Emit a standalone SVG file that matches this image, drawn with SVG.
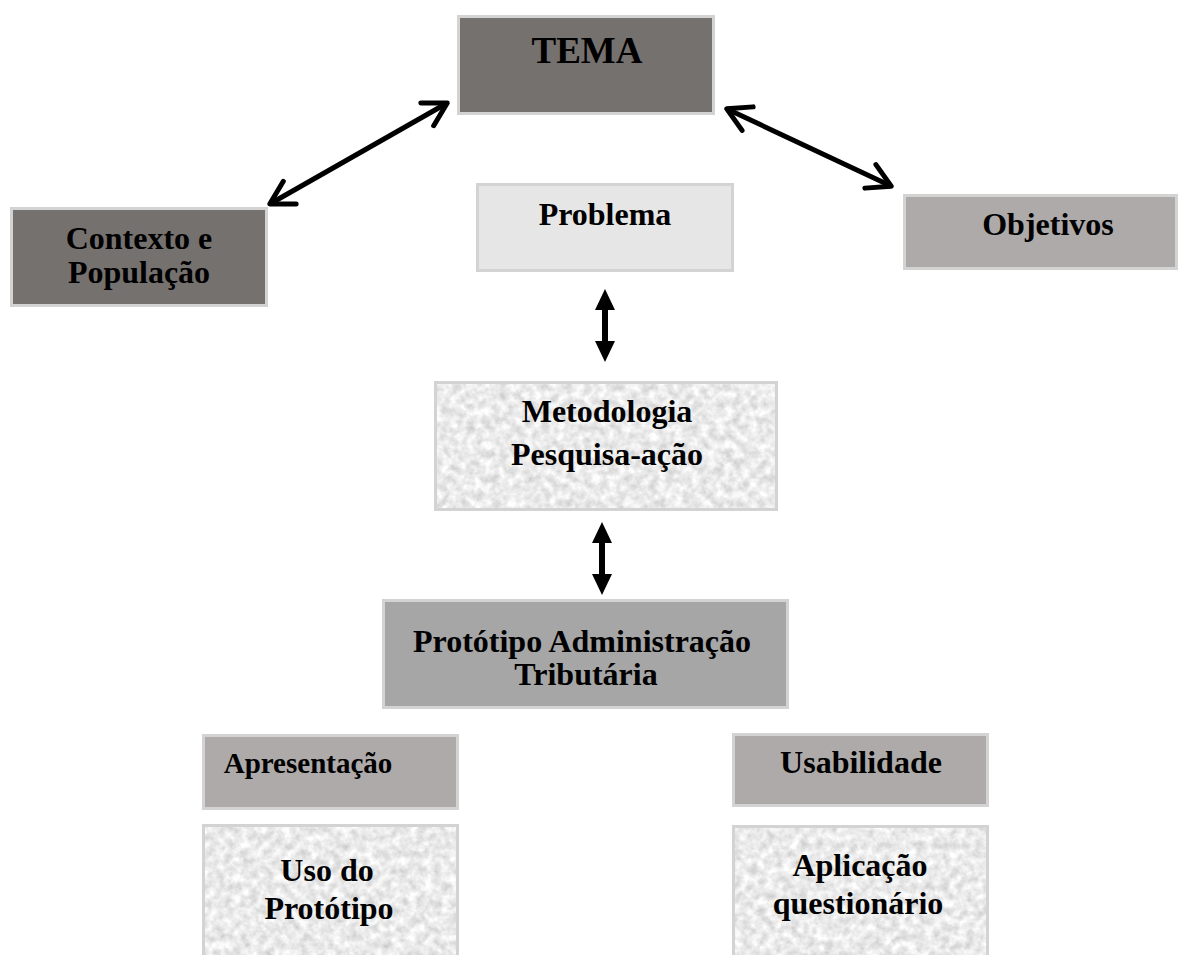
<svg xmlns="http://www.w3.org/2000/svg" width="1182" height="955" viewBox="0 0 1182 955">
  <defs>
    <style>
      .box { stroke: #d3d3d3; stroke-width: 3; }
      .dark { fill: #75716f; }
      .light { fill: #e6e6e6; }
      .mid { fill: #adaaa9; }
      .grey { fill: #a6a6a6; }
      .tex { fill: #ffffff; stroke: none; filter: url(#granite); }
      .frame { fill: none; stroke: #d3d3d3; stroke-width: 3; }
      text { font-family: "Liberation Serif", "Times New Roman", serif; font-weight: bold; font-size: 32px; fill: #000; text-anchor: middle; }
      .link { fill: none; stroke: #000; }
      .diag { stroke-width: 5; stroke-linecap: round; marker-start: url(#chevron); marker-end: url(#chevron); }
      .vert { stroke-width: 6; marker-start: url(#tri); marker-end: url(#tri); }
    </style>
    <!-- speckled stone fill for the light boxes -->
    <filter id="granite" x="0" y="0" width="1" height="1" color-interpolation-filters="sRGB">
      <feTurbulence type="fractalNoise" baseFrequency="0.12" numOctaves="4" seed="7" result="noise"/>
      <feColorMatrix in="noise" type="matrix" values="0.3 0 0 0 0.77  0.3 0 0 0 0.77  0.3 0 0 0 0.77  0 0 0 0 1" result="gray"/>
      <feComposite in="gray" in2="SourceAlpha" operator="in"/>
    </filter>
    <!-- open arrowhead for the diagonal links -->
    <marker id="chevron" markerUnits="userSpaceOnUse" viewBox="-40 -30 60 60" markerWidth="60" markerHeight="60" refX="0" refY="0" orient="auto-start-reverse">
      <path d="M-21,-13 L2,0 L-21,13" fill="none" stroke="#000" stroke-width="5" stroke-linecap="round" stroke-linejoin="round"/>
    </marker>
    <!-- solid arrowhead for the vertical links -->
    <marker id="tri" markerUnits="userSpaceOnUse" viewBox="-20 -15 40 30" markerWidth="40" markerHeight="30" refX="0" refY="0" orient="auto-start-reverse">
      <path d="M-6,-10 L15,0 L-6,10 Z" fill="#000"/>
    </marker>
  </defs>

  <rect width="1182" height="955" fill="#ffffff"/>

  <g id="connectors">
    <line class="link diag" x1="271.5" y1="203" x2="445.5" y2="104"/>
    <line class="link diag" x1="728.6" y1="109.7" x2="889.4" y2="185.3"/>
    <line class="link vert" x1="605" y1="304" x2="605" y2="347"/>
    <line class="link vert" x1="602" y1="537" x2="602" y2="580"/>
  </g>

  <g id="tema">
    <rect class="box dark" x="458.5" y="16.5" width="255" height="97"/>
    <text x="587" y="63" style="font-size:37px">TEMA</text>
  </g>

  <g id="contexto">
    <rect class="box dark" x="11.5" y="208.5" width="255" height="97"/>
    <text x="139" y="249">Contexto e</text>
    <text x="139" y="283">População</text>
  </g>

  <g id="problema">
    <rect class="box light" x="477.5" y="184.5" width="255" height="86"/>
    <text x="605" y="225">Problema</text>
  </g>

  <g id="objetivos">
    <rect class="box mid" x="904.5" y="195.5" width="272" height="73"/>
    <text x="1048" y="235">Objetivos</text>
  </g>

  <g id="metodologia">
    <rect class="tex" x="435.5" y="382.5" width="341" height="127"/>
    <rect class="frame" x="435.5" y="382.5" width="341" height="127"/>
    <text x="607" y="422">Metodologia</text>
    <text x="607" y="465">Pesquisa-ação</text>
  </g>

  <g id="prototipo">
    <rect class="box grey" x="383.5" y="600.5" width="404" height="107"/>
    <text x="582" y="652">Protótipo Administração</text>
    <text x="586" y="685">Tributária</text>
  </g>

  <g id="apresentacao">
    <rect class="box mid" x="203.5" y="735.5" width="254" height="73"/>
    <text x="308" y="773" style="font-size:29px">Apresentação</text>
  </g>

  <g id="usabilidade">
    <rect class="box mid" x="733.5" y="734.5" width="254" height="71"/>
    <text x="861" y="773">Usabilidade</text>
  </g>

  <g id="uso-prototipo">
    <rect class="tex" x="203.5" y="825.5" width="254" height="140"/>
    <rect class="frame" x="203.5" y="825.5" width="254" height="140"/>
    <text x="327" y="881">Uso do</text>
    <text x="329" y="919">Protótipo</text>
  </g>

  <g id="aplicacao">
    <rect class="tex" x="733.5" y="826.5" width="254" height="140"/>
    <rect class="frame" x="733.5" y="826.5" width="254" height="140"/>
    <text x="860" y="876">Aplicação</text>
    <text x="858" y="914">questionário</text>
  </g>
</svg>
